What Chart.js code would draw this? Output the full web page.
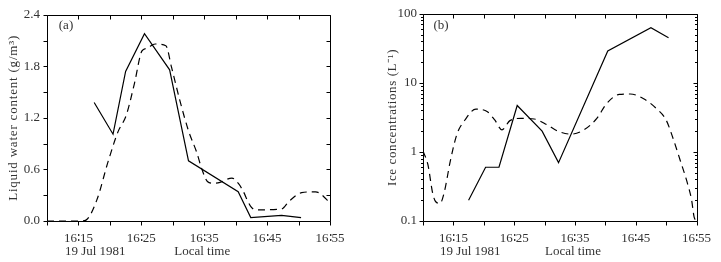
<!DOCTYPE html>
<html>
<head>
<meta charset="utf-8">
<script src="https://cdn.jsdelivr.net/npm/chart.js@4.4.1/dist/chart.umd.min.js"></script>
<style>
  html, body { margin: 0; padding: 0; background: #fff; }
  #wrap { position: relative; width: 721px; height: 262px; overflow: hidden; }
  canvas { position: absolute; top: 0; }
</style>
</head>
<body>
<div id="wrap">
  <canvas id="ca" width="360" height="262" style="left:0px"></canvas>
  <canvas id="cb" width="361" height="262" style="left:360px"></canvas>
</div>
<script>
// ---- Data (minutes after 16:00) ----
const timeTickValues = [10, 15, 20, 25, 30, 35, 40, 45, 50, 55];
const timeLabelValues = [15, 25, 35, 45, 55];
const timeLabels = ['16∶15', '16∶25', '16∶35', '16∶45', '16∶55'];

// Panel (a): liquid water content (g/m3)
const lwcTicks = [0, 0.3, 0.6, 0.9, 1.2, 1.5, 1.8, 2.1, 2.4];
const lwcLabelValues = [0, 0.6, 1.2, 1.8, 2.4];
const lwcSolidT = [17.5, 20.5, 22.5, 25.5, 29.5, 32.5, 40.4, 42.4, 47.3, 50.4];
const lwcSolidV = [1.38, 1.01, 1.74, 2.18, 1.76, 0.70, 0.34, 0.04, 0.065, 0.04];
const lwcDashT = [10, 15.5, 16.2, 17.9, 19.75, 21.3, 22.6, 23.9, 25.1, 25.85, 27.2, 28.9, 29.8, 31.1, 32.5, 33.8, 34.6, 35.5, 36.4, 37.5, 39.4, 40.4, 41.1, 42.3, 43.1, 47.3, 48.5, 50.5, 52.7, 54.6, 55];
const lwcDashV = [0, 0, 0.01, 0.24, 0.70, 1.04, 1.23, 1.60, 1.98, 2.01, 2.06, 2.04, 1.79, 1.41, 1.05, 0.80, 0.61, 0.46, 0.44, 0.45, 0.50, 0.44, 0.36, 0.18, 0.13, 0.14, 0.23, 0.33, 0.34, 0.24, 0.20];

// Panel (b): ice concentrations (L-1)
const iceMajorTicks = [0.1, 1, 10, 100];
const iceMinorTicks = [0.2,0.3,0.4,0.5,0.6,0.7,0.8,0.9, 2,3,4,5,6,7,8,9, 20,30,40,50,60,70,80,90];
const iceLabels = ['0.1', '1', '10', '100'];
const iceSolidT = [17.5, 20.3, 22.5, 25.5, 29.6, 32.3, 40.4, 47.5, 50.4];
const iceSolidV = [0.2, 0.6, 0.6, 4.7, 2.0, 0.7, 29, 63, 45];
const iceDashT = [10, 10.8, 11.6, 12.1, 12.8, 13.45, 14.5, 15.56, 16.9, 18.7, 20.6, 21.8, 23.0, 24.3, 26.1, 28.3, 30.4, 32.2, 34.35, 36.5, 38.6, 40.2, 42.3, 44.1, 46.3, 48.4, 50.0, 51.3, 52.35, 53.4, 54.2, 54.6, 55];
const iceDashV = [1.03, 0.66, 0.25, 0.19, 0.18, 0.25, 0.74, 1.78, 2.9, 4.17, 3.81, 2.9, 2.09, 2.84, 3.06, 3.0, 2.47, 2.0, 1.81, 2.09, 3.06, 5.0, 6.8, 6.9, 5.9, 4.25, 2.9, 1.43, 0.74, 0.38, 0.2, 0.115, 0.1];

// ---- Helpers ----
const FONT = '"Liberation Serif", "Times New Roman", serif';
const TEXT = '#333';
const pts = (t, v) => t.map((x, i) => ({ x: x, y: v[i] }));

const framePlugin = {
  id: 'frame',
  afterDraw(chart, args, o) {
    const ctx = chart.ctx, a = chart.chartArea;
    const xs = chart.scales.x, ys = chart.scales.y;
    ctx.save();
    ctx.strokeStyle = '#000';
    ctx.lineWidth = 1;
    const L = Math.round(a.left) + 0.5, R = Math.round(a.right) + 0.5;
    const T = Math.round(a.top) + 0.5, B = Math.round(a.bottom) + 0.5;
    ctx.beginPath();
    ctx.rect(L, T, R - L, B - T);
    timeTickValues.forEach(v => {
      const px = Math.round(xs.getPixelForValue(v)) + 0.5;
      ctx.moveTo(px, B); ctx.lineTo(px, B + 4);
      ctx.moveTo(px, T); ctx.lineTo(px, T + 4);
    });
    const yTick = (v, len) => {
      const py = Math.round(ys.getPixelForValue(v)) + 0.5;
      ctx.moveTo(L, py); ctx.lineTo(L - len, py);
      ctx.moveTo(R, py); ctx.lineTo(R - len, py);
    };
    o.yMajor.forEach(v => yTick(v, 4));
    (o.yMinor || []).forEach(v => yTick(v, 2.5));
    ctx.stroke();

    ctx.fillStyle = TEXT;
    ctx.font = '13px ' + FONT;
    ctx.textBaseline = 'middle';
    ctx.textAlign = 'center';
    ctx.fillText(o.panel, a.left + o.panelDx, 26);
    ctx.save();
    ctx.letterSpacing = o.titleSpacing;
    ctx.translate(o.titleX, (a.top + a.bottom) / 2);
    ctx.rotate(-Math.PI / 2);
    ctx.fillText(o.yTitle, 0, 0);
    ctx.restore();
    const x15 = xs.getPixelForValue(15);
    const w15 = ctx.measureText(timeLabels[0]).width;
    ctx.textAlign = 'left';
    ctx.fillText('19 Jul 1981', x15 - w15 / 2 + 1, 252);
    ctx.textAlign = 'center';
    ctx.fillText('Local time', xs.getPixelForValue(35) - 2, 252);
    ctx.restore();
  }
};

function makeChart(id, cfg) {
  return new Chart(document.getElementById(id), {
    type: 'line',
    data: {
      datasets: [
        { data: pts(cfg.solidT, cfg.solidV), borderColor: '#000', borderWidth: 1.2, pointRadius: 0, tension: 0, fill: false },
        { data: pts(cfg.dashT, cfg.dashV), borderColor: '#000', borderWidth: 1.2, borderDash: [7, 5], pointRadius: 0, tension: 0.25, fill: false, cubicInterpolationMode: 'monotone' }
      ]
    },
    options: {
      responsive: false,
      animation: false,
      events: [],
      layout: { padding: { left: 0, right: cfg.padRight, top: 10, bottom: 0 } },
      plugins: {
        legend: { display: false },
        tooltip: { enabled: false },
        frame: cfg.frame
      },
      scales: {
        x: {
          type: 'linear', min: 10, max: 55,
          afterBuildTicks: s => { s.ticks = timeLabelValues.map(v => ({ value: v })); },
          afterFit: s => { s.height = 41; },
          grid: { display: false, drawTicks: false },
          border: { display: false },
          ticks: {
            padding: 10, autoSkip: false, maxRotation: 0, color: TEXT,
            font: { family: FONT, size: 13 },
            callback: v => { const i = timeLabelValues.indexOf(v); return i >= 0 ? timeLabels[i] : ''; }
          }
        },
        y: {
          type: cfg.yType, min: cfg.yMin, max: cfg.yMax,
          afterBuildTicks: s => { s.ticks = cfg.yLabelValues.map(v => ({ value: v })); },
          afterFit: s => { s.width = cfg.yWidth; },
          grid: { display: false, drawTicks: false },
          border: { display: false },
          ticks: {
            padding: cfg.yPad, autoSkip: false, color: TEXT,
            font: { family: FONT, size: 13 },
            callback: cfg.yCallback
          }
        }
      }
    },
    plugins: [framePlugin]
  });
}

makeChart('ca', {
  solidT: lwcSolidT, solidV: lwcSolidV, dashT: lwcDashT, dashV: lwcDashV,
  padRight: 30, yWidth: 47, yPad: 7,
  yType: 'linear', yMin: 0, yMax: 2.4,
  yLabelValues: lwcLabelValues,
  yCallback: v => v.toFixed(1),
  frame: { yMajor: lwcTicks, yMinor: [], panel: '(a)', panelDx: 19, yTitle: 'Liquid water content (g/m³)', titleX: 14, titleSpacing: '0.8px' }
});

makeChart('cb', {
  solidT: iceSolidT, solidV: iceSolidV, dashT: iceDashT, dashV: iceDashV,
  padRight: 14, yWidth: 63, yPad: 6,
  yType: 'logarithmic', yMin: 0.1, yMax: 100,
  yLabelValues: iceMajorTicks,
  yCallback: v => { const i = iceMajorTicks.findIndex(m => Math.abs(m - v) < 1e-9); return i >= 0 ? iceLabels[i] : ''; },
  frame: { yMajor: iceMajorTicks, yMinor: iceMinorTicks, panel: '(b)', panelDx: 18, yTitle: 'Ice concentrations (L⁻¹)', titleX: 33, titleSpacing: '0.6px' }
});
</script>
</body>
</html>
